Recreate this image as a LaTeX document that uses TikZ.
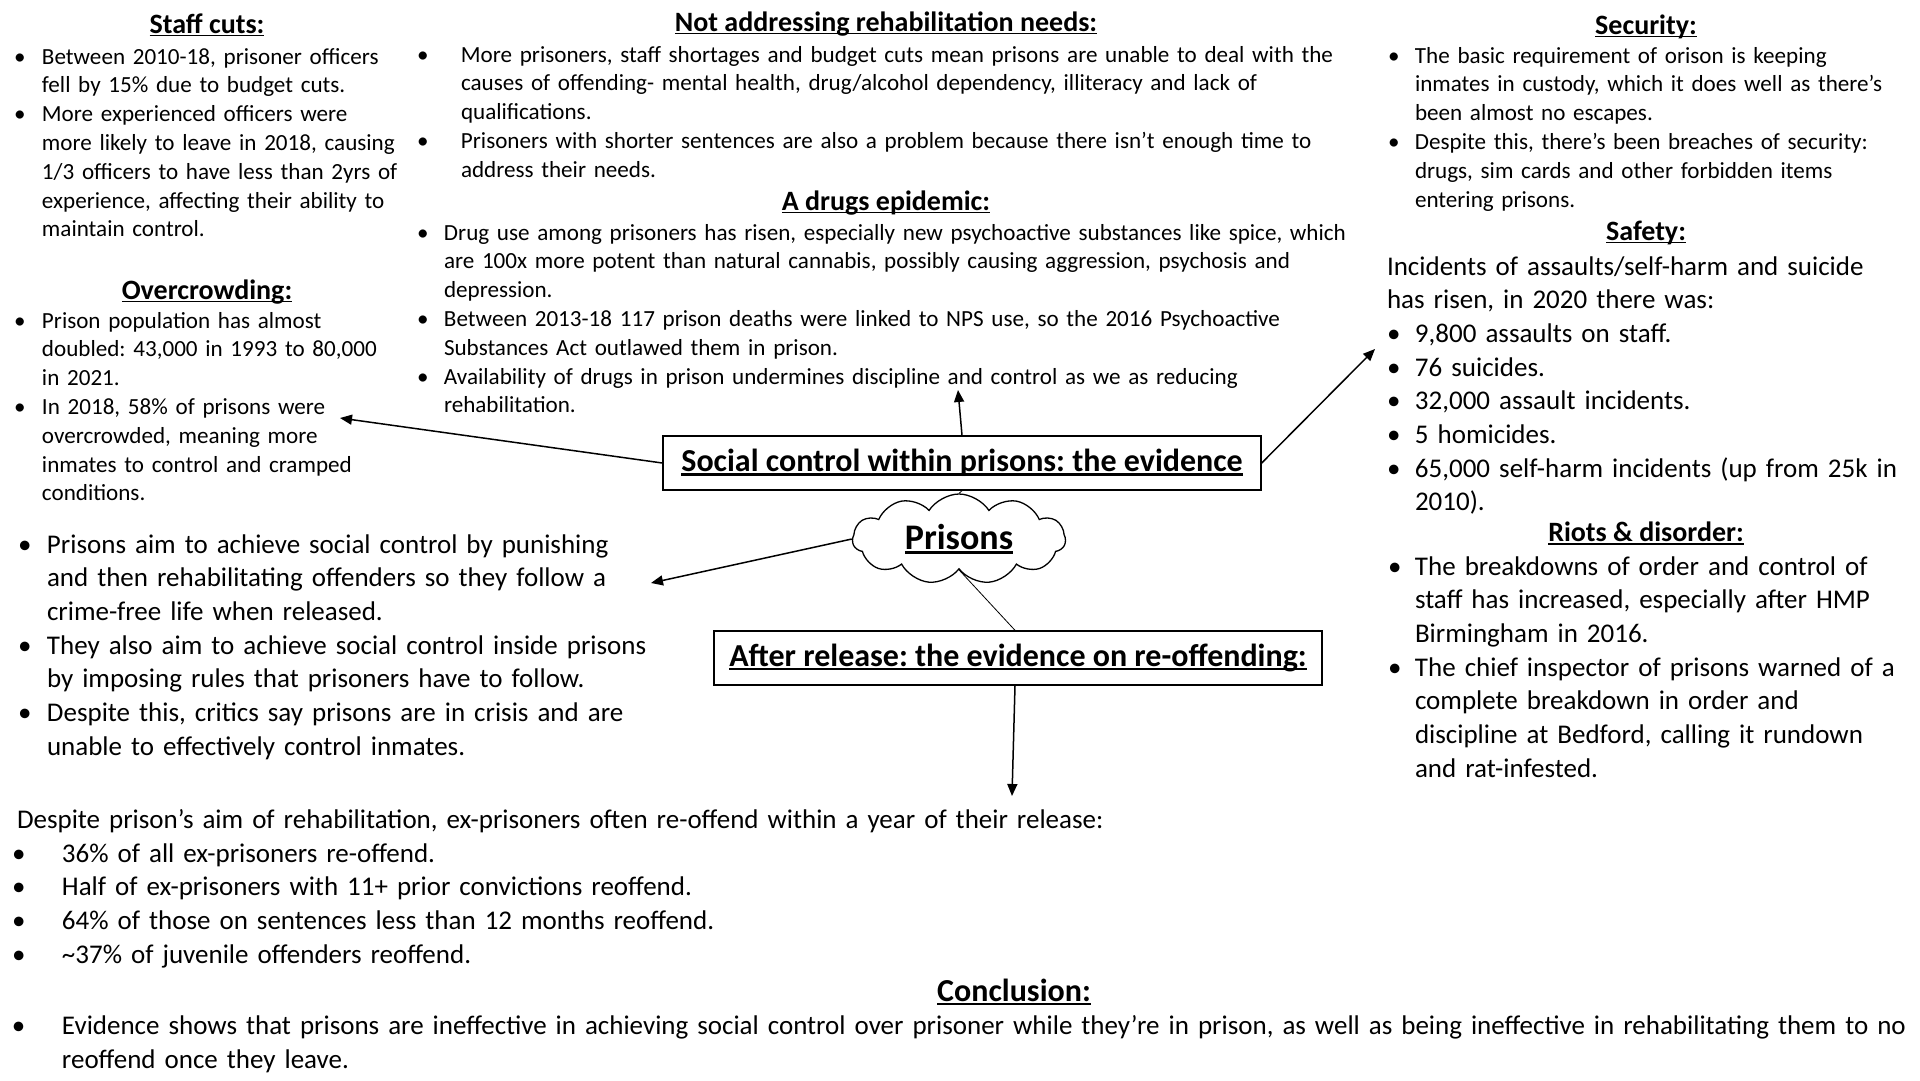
\documentclass[tikz,border=0pt]{standalone}
\usepackage{fontspec}
\setmainfont{Carlito}
\usetikzlibrary{arrows.meta,shapes.symbols}
\newcommand\fsA{\fontsize{23.1}{28.8}\selectfont}
\newcommand\fsB{\fontsize{27}{33.7}\selectfont}
\newcommand\fsH{\fontsize{28}{33}\selectfont\bfseries}
\newcommand\fsC{\fontsize{32}{38}\selectfont\bfseries}
\newcommand\fsP{\fontsize{36}{42}\selectfont\bfseries}
\newcommand\bu[1]{\makebox[#1][l]{•}}
\newcommand\ulh[1]{\setbox0=\hbox{#1}\rlap{\rule[-0.12em]{\wd0}{0.065em}}\box0}
\frenchspacing
\begin{document}
\begin{tikzpicture}[x=1pt,y=-1pt,
  txt/.style={anchor=base west, inner sep=0pt, outer sep=0pt, align=left, text width=1000pt, font=\fsA},
  txtB/.style={txt, font=\fsB},
  hd/.style={anchor=base, inner sep=0pt, font=\fsH},
  ebox/.style={draw, line width=1.4pt, minimum height=54pt, inner sep=0pt, font=\fsC},
  arr/.style={line width=1.5pt, -{Triangle[length=12pt,width=10pt]}},
  thinline/.style={line width=0.8pt}]
\useasboundingbox (0,0) rectangle (1920,1080);
\fill[white] (0,0) rectangle (1920,1080);

% ---------- Staff cuts
\node[hd] (hstaff) at (207,33) {\ulh{Staff cuts:}};
\node[txt] (staff) at (14,64) {\bu{28pt}Between 2010-18, prisoner officers\\
\hspace*{28pt}fell by 15\% due to budget cuts.\\
\bu{28pt}More experienced officers were\\
\hspace*{28pt}more likely to leave in 2018, causing\\
\hspace*{28pt}1/3 officers to have less than 2yrs of\\
\hspace*{28pt}experience, affecting their ability to\\
\hspace*{28pt}maintain control.};

% ---------- Overcrowding
\node[hd] (hover) at (207,299) {\ulh{Overcrowding:}};
\node[txt] (over) at (14,328) {\bu{28pt}Prison population has almost\\
\hspace*{28pt}doubled: 43,000 in 1993 to 80,000\\
\hspace*{28pt}in 2021.\\
\bu{28pt}In 2018, 58\% of prisons were\\
\hspace*{28pt}overcrowded, meaning more\\
\hspace*{28pt}inmates to control and cramped\\
\hspace*{28pt}conditions.};

% ---------- Not addressing rehabilitation needs
\node[hd] (hrehab) at (886,31) {\ulh{Not addressing rehabilitation needs:}};
\node[txt] (rehab) at (417,62) {\bu{44pt}More prisoners, staff shortages and budget cuts mean prisons are unable to deal with the\\
\hspace*{44pt}causes of offending- mental health, drug/alcohol dependency, illiteracy and lack of\\
\hspace*{44pt}qualifications.\\
\bu{44pt}Prisoners with shorter sentences are also a problem because there isn’t enough time to\\
\hspace*{44pt}address their needs.};

% ---------- Drugs epidemic
\node[hd] (hdrug) at (886,210) {\ulh{A drugs epidemic:}};
\node[txt] (drug) at (417,240) {\bu{27pt}Drug use among prisoners has risen, especially new psychoactive substances like spice, which\\
\hspace*{27pt}are 100x more potent than natural cannabis, possibly causing aggression, psychosis and\\
\hspace*{27pt}depression.\\
\bu{27pt}Between 2013-18 117 prison deaths were linked to NPS use, so the 2016 Psychoactive\\
\hspace*{27pt}Substances Act outlawed them in prison.\\
\bu{27pt}Availability of drugs in prison undermines discipline and control as we as reducing\\
\hspace*{27pt}rehabilitation.};

% ---------- Security
\node[hd] (hsec) at (1646,34) {\ulh{Security:}};
\node[txt] (sec) at (1388,63) {\bu{27pt}The basic requirement of orison is keeping\\
\hspace*{27pt}inmates in custody, which it does well as there’s\\
\hspace*{27pt}been almost no escapes.\\
\bu{27pt}Despite this, there’s been breaches of security:\\
\hspace*{27pt}drugs, sim cards and other forbidden items\\
\hspace*{27pt}entering prisons.};

% ---------- Safety
\node[hd] (hsafe) at (1646,240) {\ulh{Safety:}};
\node[txtB] (safe) at (1387,275) {Incidents of assaults/self-harm and suicide\\
has risen, in 2020 there was:\\
\bu{28pt}9,800 assaults on staff.\\
\bu{28pt}76 suicides.\\
\bu{28pt}32,000 assault incidents.\\
\bu{28pt}5 homicides.\\
\bu{28pt}65,000 self-harm incidents (up from 25k in\\
\hspace*{28pt}2010).};

% ---------- Riots
\node[hd] (hriot) at (1646,541.5) {\ulh{Riots \& disorder:}};
\node[txtB] (riot) at (1388,575) {\bu{27pt}The breakdowns of order and control of\\
\hspace*{27pt}staff has increased, especially after HMP\\
\hspace*{27pt}Birmingham in 2016.\\
\bu{27pt}The chief inspector of prisons warned of a\\
\hspace*{27pt}complete breakdown in order and\\
\hspace*{27pt}discipline at Bedford, calling it rundown\\
\hspace*{27pt}and rat-infested.};

% ---------- Left middle
\node[txtB] (aims) at (18,553) {\bu{29pt}Prisons aim to achieve social control by punishing\\
\hspace*{29pt}and then rehabilitating offenders so they follow a\\
\hspace*{29pt}crime-free life when released.\\
\bu{29pt}They also aim to achieve social control inside prisons\\
\hspace*{29pt}by imposing rules that prisoners have to follow.\\
\bu{29pt}Despite this, critics say prisons are in crisis and are\\
\hspace*{29pt}unable to effectively control inmates.};

% ---------- Re-offending
\node[txtB, text width=2000pt] (reoff) at (17,828.5) {Despite prison’s aim of rehabilitation, ex-prisoners often re-offend within a year of their release:\\
\hspace*{-5pt}\bu{50pt}36\% of all ex-prisoners re-offend.\\
\hspace*{-5pt}\bu{50pt}Half of ex-prisoners with 11+ prior convictions reoffend.\\
\hspace*{-5pt}\bu{50pt}64\% of those on sentences less than 12 months reoffend.\\
\hspace*{-5pt}\bu{50pt}\textasciitilde37\% of juvenile offenders reoffend.};

% ---------- Conclusion
\node[hd, font=\fsC] (hconc) at (1014,1001) {\ulh{Conclusion:}};
\node[txtB, text width=2000pt] (conc) at (12,1034.5) {\bu{50pt}Evidence shows that prisons are ineffective in achieving social control over prisoner while they’re in prison, as well as being ineffective in rehabilitating them to no\\
\hspace*{50pt}reoffend once they leave.};

% ---------- Central nodes
\node[ebox, minimum width=598pt] (soc) at (962,463) {\ulh{Social control within prisons: the evidence}};
\node[draw, cloud, cloud puffs=11, cloud puff arc=115, aspect=2.3, line width=1.3pt,
      minimum width=213pt, minimum height=90pt, inner sep=0pt, font=\fsP] (cloud) at (959,539) {\ulh{Prisons}};
\node[ebox, minimum width=608pt] (after) at (1018,658) {\ulh{After release: the evidence on re-offending:}};

\coordinate (pOver) at (340,418);
\coordinate (pDrug) at (958,390);
\coordinate (pSafe) at (1375,349);
\coordinate (pLeft) at (651,583);
\coordinate (pBot) at (1012,796);

\draw[arr] (soc.west) -- (pOver);
\draw[arr] (soc.north) -- (pDrug);
\draw[arr] (soc.east) -- (pSafe);
\draw[thinline] (cloud.north) -- (soc.south);
\draw[arr] (cloud.west) -- (pLeft);
\draw[thinline] (cloud.south) -- ([xshift=-3pt]after.north);
\draw[arr] ([xshift=-3pt]after.south) -- (pBot);
\end{tikzpicture}
\end{document}
